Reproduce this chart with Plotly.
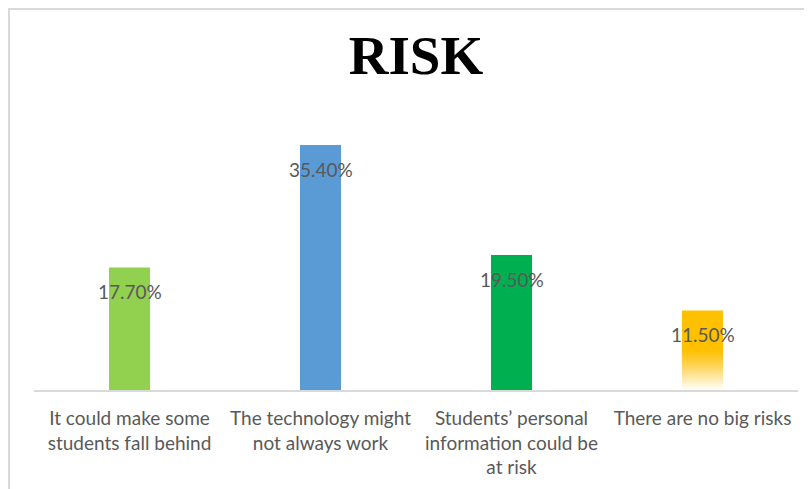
import plotly.graph_objects as go

categories = [
    "It could make some<br>students fall behind",
    "The technology might<br>not always work",
    "Students’ personal<br>information could be<br>at risk",
    "There are no big risks",
]
values = [17.7, 35.4, 19.5, 11.5]
bar_colors = ["#92D050", "#5B9BD5", "#00B050", "rgba(255,192,0,0)"]
gradient_index = 3
title_text = "RISK"

BAR_W = 0.215
idx = list(range(len(categories)))

ML, MR, MT, MB = 26, 22, 102, 107
PW, PH = 812 - ML - MR, 489 - MT - MB

fig = go.Figure()
fig.add_trace(go.Bar(
    x=idx, y=values, width=BAR_W,
    marker=dict(color=bar_colors, line=dict(width=0)),
    hoverinfo="skip", showlegend=False,
))

# gradient-filled bar (yellow fading to white at the base)
gi = gradient_index
gx0, gx1 = gi - BAR_W / 2, gi + BAR_W / 2
fig.add_trace(go.Scatter(
    x=[gx0, gx1, gx1, gx0, gx0],
    y=[0, 0, values[gi], values[gi], 0],
    mode="lines", line=dict(width=0), fill="toself",
    fillgradient=dict(
        type="vertical",
        colorscale=[[0, "#FFFFFF"], [0.1, "#FFF1C6"], [0.3, "#FFD459"],
                    [0.5, "#FFC000"], [1, "#FFC000"]],
    ),
    hoverinfo="skip", showlegend=False,
))

for i, v in zip(idx, values):
    fig.add_annotation(
        x=i, y=v, xref="x", yref="y", text=f"{v:.2f}%", showarrow=False,
        yanchor="middle", yshift=-24,
        font=dict(family="Lato", size=19, color="#595959"),
    )

# outer chart frame (cropped on the right and bottom)
fig.add_shape(type="rect", xref="paper", yref="paper",
              x0=(1 - ML) / PW, x1=1.2, y0=-0.6, y1=1 + (MT - 1) / PH,
              line=dict(color="#D9D9D9", width=2), fillcolor="rgba(0,0,0,0)",
              layer="below")

fig.update_layout(
    width=812, height=489,
    margin=dict(l=ML, r=MR, t=MT, b=MB),
    paper_bgcolor="white", plot_bgcolor="white",
    title=dict(text=f"<b>{title_text}</b>", x=0.5, xref="paper", xanchor="center",
               y=1 - 47 / 489, yref="container", yanchor="middle",
               font=dict(family="Liberation Serif", size=55, color="#000000")),
    xaxis=dict(
        tickvals=idx, ticktext=categories, range=[-0.5, len(categories) - 0.5],
        showgrid=False, zeroline=False, showline=True, linecolor="#D9D9D9",
        linewidth=2, ticks="", ticklabelstandoff=10,
        tickfont=dict(family="Lato", size=19, color="#595959"),
    ),
    yaxis=dict(range=[0, 40.46], visible=False, showgrid=False, zeroline=False),
)

fig.write_html("out.html")
